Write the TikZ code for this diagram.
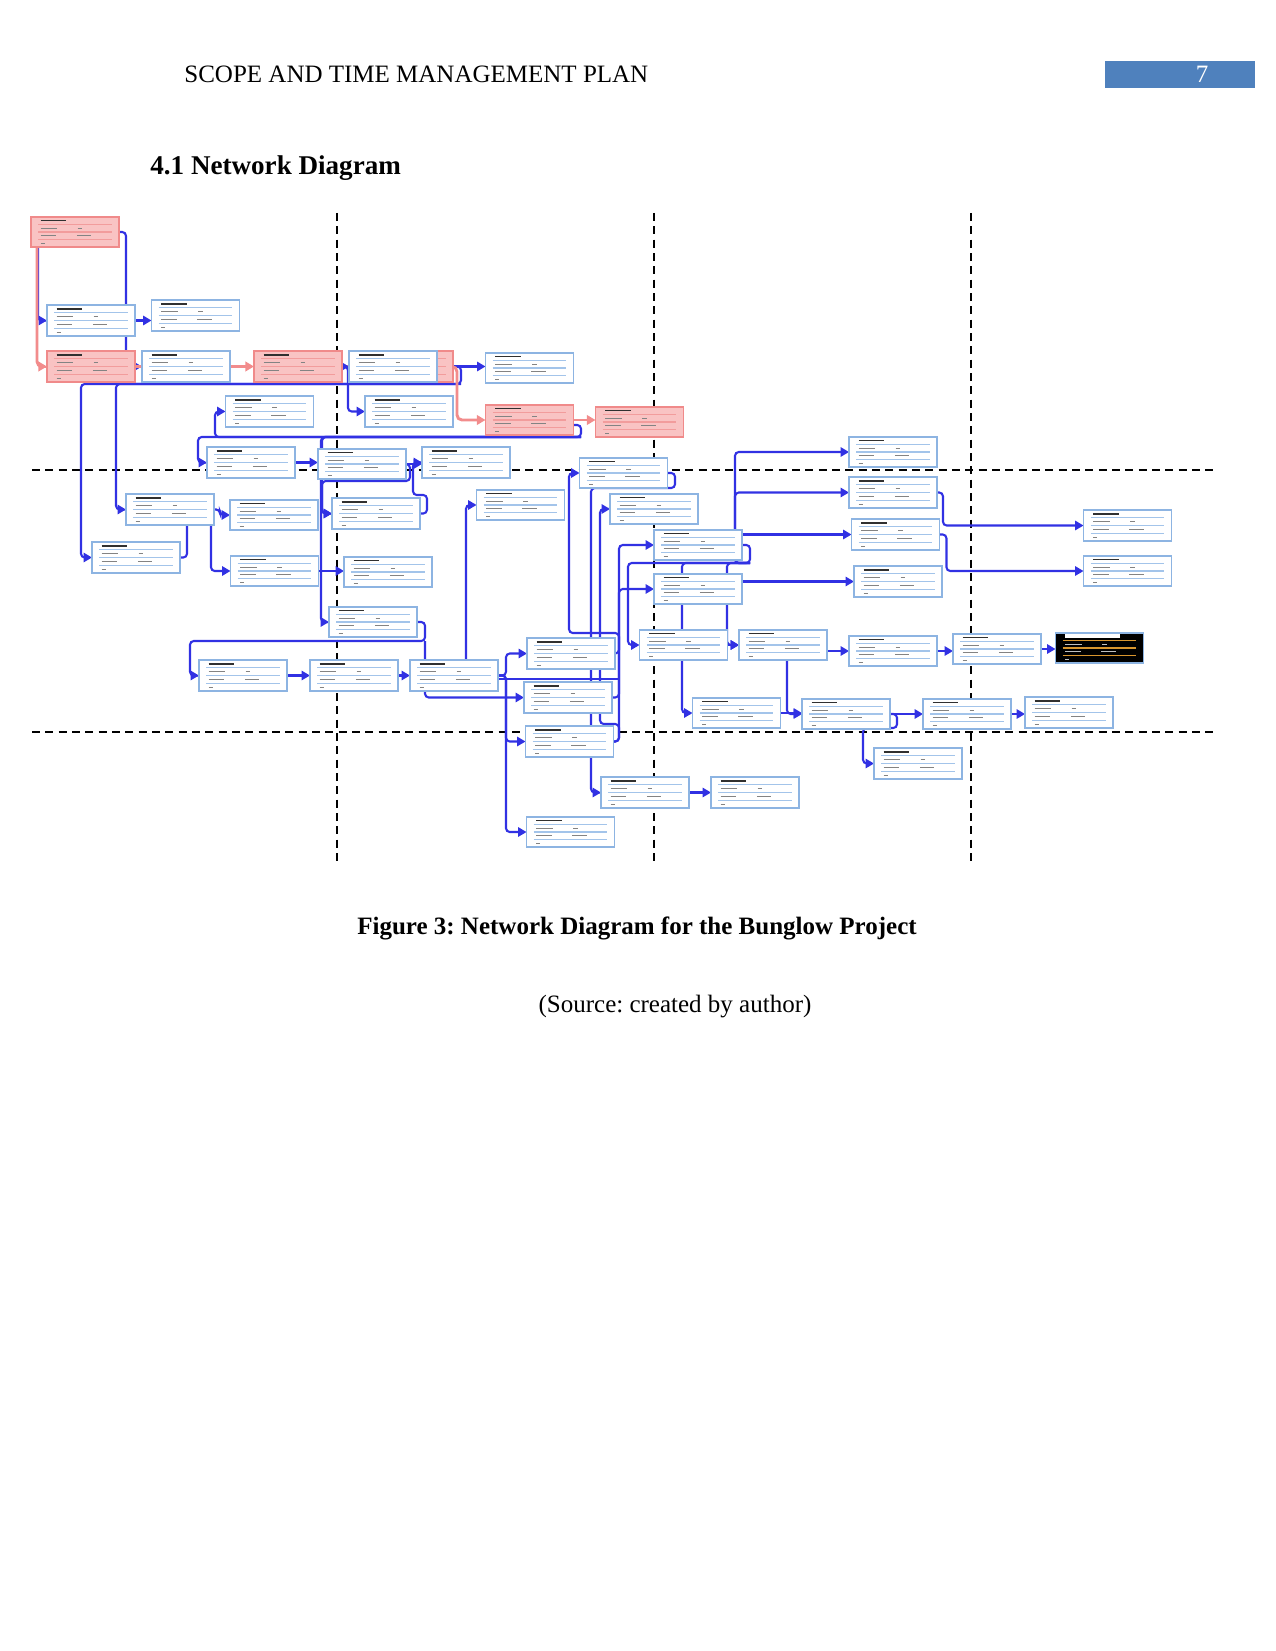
\documentclass[tikz,border=0pt]{standalone}
\usepackage{fontspec}
\setmainfont{Liberation Serif}
\usepackage{xcolor}
\usepackage{tikz}
\usetikzlibrary{arrows.meta, backgrounds}
\frenchspacing
\definecolor{C_LINK}{HTML}{3131E3}
\definecolor{C_CRIT}{HTML}{F28C8C}
\definecolor{C_BOX} {HTML}{8DB4E2}
\definecolor{C_SEP} {HTML}{A3C4EA}
\definecolor{C_CFIL}{HTML}{F9C3C3}
\definecolor{C_CBOX}{HTML}{F08A8A}
\definecolor{C_TXT} {HTML}{303030}
\definecolor{C_ORNG}{HTML}{D9962E}
\definecolor{C_PAGE}{HTML}{4F81BD}
\tikzset{
  %% -- page text --
  doc/text/.style={font=\fontsize{12pt}{14.4pt}\selectfont, inner sep=0pt},
  doc/bold/.style={font=\fontsize{12pt}{14.4pt}\selectfont\bfseries, inner sep=0pt},
  %% -- activity box (lines stand for the unreadable fields) --
  net/task/.style={
    draw=C_BOX, line width=0.9pt, fill=white,
    minimum width=42.2pt, minimum height=14.8pt,
    inner sep=0pt, outer sep=0pt,
    path picture={
      \foreach \yy in {3.6,7.4,11.1}
        \draw[net/sep] ([xshift=3.4pt,yshift=-\yy pt]path picture bounding box.north west)
          -- ++(35.4pt,0pt);
      \draw[net/ttl] ([xshift=4.6pt,yshift=-1.8pt]path picture bounding box.north west)
        -- ++(12.4pt,0pt);
      \draw[net/txt] ([xshift=4.6pt,yshift=-5.5pt]path picture bounding box.north west)
        -- ++(8pt,0pt) ++(9.8pt,0pt) -- ++(2.2pt,0pt);
      \draw[net/txt] ([xshift=4.6pt,yshift=-9.3pt]path picture bounding box.north west)
        -- ++(7.6pt,0pt) ++(9.8pt,0pt) -- ++(7pt,0pt);
      \draw[net/txt] ([xshift=4.6pt,yshift=-13pt]path picture bounding box.north west)
        -- ++(2pt,0pt);
    }
  },
  net/sep/.style={draw=C_SEP, line width=0.55pt},
  net/ttl/.style={draw=C_TXT, line width=0.7pt},
  net/txt/.style={draw=C_TXT!60, line width=0.45pt},
  %% -- critical activity --
  net/crit/.style={net/task, fill=C_CFIL, draw=C_CBOX,
    net/sep/.style={draw=C_CBOX!85, line width=0.55pt}},
  %% -- finish milestone --
  net/last/.style={net/task, fill=black, draw=C_BOX,
    net/sep/.style={draw=C_ORNG, line width=0.55pt},
    net/ttl/.style={draw=white, line width=1.8pt, shorten >=-14pt},
    net/txt/.style={draw=white!75!black, line width=0.45pt}},
  %% -- links --
  net/link/.style={draw=C_LINK, line width=1pt, rounded corners=1.8pt,
    -{Triangle[length=4pt, width=4.4pt]}},
  net/wire/.style={draw=C_LINK, line width=1pt, rounded corners=1.8pt},
  net/clink/.style={draw=C_CRIT, line width=1.4pt, rounded corners=2.4pt,
    -{Triangle[length=4.2pt, width=4.6pt]}},
  net/grid/.style={draw=black, line width=0.75pt, dash pattern=on 3.8pt off 2.6pt},
}
\begin{document}
\begin{tikzpicture}[x=0.48pt, y=-0.48pt]
\useasboundingbox (0,0) rectangle (1275,1651);

%% Page header
\node[doc/text, anchor=base west] (head) at (184,83) {SCOPE AND TIME MANAGEMENT PLAN};
\fill[C_PAGE] (1105,61) rectangle (1255,88);
\node[doc/text, anchor=base, text=white] (page) at (1202,83) {7};
\node[doc/bold, anchor=base west, font=\fontsize{13pt}{15pt}\selectfont\bfseries]
  (sect) at (150,175) {4.1 Network Diagram};

%% Critical path
\node[net/crit] (ta)  at (75,232)    {};
\node[net/crit] (td)  at (91,366.5)  {};
\node[net/crit] (tf)  at (298,366.5) {};
\node[net/crit] (th)  at (409,366.5) {};
\node[net/crit] (tl)  at (529.5,420) {};
\node[net/crit] (tm)  at (639.5,422) {};

%% Other activities
\node[net/task] (tb)  at (91,320.5)    {};
\node[net/task] (tc)  at (195.5,315.5) {};
\node[net/task] (te)  at (186,366.5)   {};
\node[net/task] (tg)  at (393,366.5)   {};
\node[net/task] (ti)  at (269.5,411.5) {};
\node[net/task] (tj)  at (409,411.5)   {};
\node[net/task] (tk)  at (529.5,368)   {};
\node[net/task] (tn)  at (251,462.5)   {};
\node[net/task] (to)  at (362,464)     {};
\node[net/task] (tp)  at (466,462.5)   {};
\node[net/task] (tq)  at (274,515)     {};
\node[net/task] (tr)  at (376,513.5)   {};
\node[net/task] (ts)  at (274.5,571)   {};
\node[net/task] (tt)  at (388,572)     {};
\node[net/task] (tu)  at (373,622)     {};
\node[net/task] (tv)  at (520.5,505)   {};
\node[net/task] (tw)  at (170,509.5)   {};
\node[net/task] (tx)  at (136,557.5)   {};
\node[net/task] (ty)  at (623.5,473)   {};
\node[net/task] (tz)  at (654,509)     {};
\node[net/task] (taa) at (698,545)     {};
\node[net/task] (tab) at (698,589)     {};
\node[net/task] (tac) at (893,452)     {};
\node[net/task] (tad) at (893,492.5)   {};
\node[net/task] (tae) at (895.5,534.5) {};
\node[net/task] (taf) at (898,581.5)   {};
\node[net/task] (tag) at (1127.5,525.5){};
\node[net/task] (tah) at (1127.5,571)  {};
\node[net/task] (tai) at (243,675.5)   {};
\node[net/task] (taj) at (354,675.5)   {};
\node[net/task] (tak) at (454,675.5)   {};
\node[net/task] (tal) at (571,653.5)   {};
\node[net/task] (tam) at (568,697.5)   {};
\node[net/task] (tan) at (569.5,741.5) {};
\node[net/task] (tao) at (683.5,645)   {};
\node[net/task] (tap) at (783,645)     {};
\node[net/task] (taq) at (736.5,713)   {};
\node[net/task] (tar) at (645,792.5)   {};
\node[net/task] (tas) at (755,792.5)   {};
\node[net/task] (tat) at (570.5,832)   {};
\node[net/task] (tau) at (893,651)     {};
\node[net/task] (tav) at (997,649)     {};
\node[net/last] (taw) at (1099.5,648)  {};
\node[net/task] (tax) at (846,714)     {};
\node[net/task] (tay) at (967,714)     {};
\node[net/task] (taz) at (1069,712.5)  {};
\node[net/task] (tba) at (918,763.5)   {};

\begin{scope}[on background layer]
%% Time-scale grid
\draw[net/grid] (337,213) -- (337,861);
\draw[net/grid] (654,213) -- (654,861);
\draw[net/grid] (971,213) -- (971,861);
\draw[net/grid] (32,470) -- (1216,470);
\draw[net/grid] (32,732) -- (1216,732);

%% Junctions
\coordinate (busH) at (461,384);
\coordinate (busL) at (581,437);
\coordinate (busU) at (425,641);
\coordinate (busM) at (619,633);
\coordinate (busA) at (750,563);

%% Upper left
\draw[net/link] (ta.south -| 38,0) |- (tb.west);
\draw[net/link] (ta.east) -- ++(7,0) |- (te.west);
\draw[net/link] (tb.east) -- (tb.east -| tc.west);
\draw[net/clink] (ta.south -| 37,0) |- (td.west);
\draw[net/clink] (td.east) -- (tf.west);
\draw[net/clink] (tf.east) -- (th.west);
\draw[net/link] (tf.east) -- (tg.west);
\draw[net/link] (tf.east) -- ++(6,0) |- (tj.west);
\draw[net/link] (th.east) -- (th.east -| tk.west);
\draw[net/link] (th.east) -| (busH) -| (tw.west -| 116,0) -- (tw.west);
\draw[net/link] (busH) -| (tx.west -| 81,0) -- (tx.west);
\draw[net/clink] (th.east) -- ++(4,0) |- (tl.west);
\draw[net/clink] (tl.east) -- (tl.east -| tm.west);

%% Second band
\draw[net/link] ([yshift=-2.4pt]tl.east) -| (busL) -| (tn.west -| 198,0) -- (tn.west);
\draw[net/link] (busL) -| (ti.west -| 215,0) -- (ti.west);
\draw[net/link] (busL) -| (tr.west -| 322,0) -- (tr.west);
\draw[net/link] (busL) -| (tu.west -| 321,0) -- (tu.west);
\draw[net/link] (tn.east) -- (tn.east -| to.west);
\draw[net/link] (to.east) -- (to.east -| tp.west);
\draw[net/link] (to.east) -- ++(4,0) |- (322,481) |- (tr.west);
\draw[net/link] (tr.east) -| (427,495) -| (tp.west -| 413,0) -- (tp.west);
\draw[net/link] (tw.east) -- ++(6,0) |- (tq.west);
\draw[net/link] (tw.south -| 211,0) |- (ts.west);
\draw[net/wire] (tx.east) -| (tw.south -| 187,0);
\draw[net/link] (ts.east) -- (ts.east -| tt.west);

%% Third band
\draw[net/link] (tu.east) -| (busU) -| (tai.west -| 190,0) -- (tai.west);
\draw[net/link] (busU) |- (tam.west);
\draw[net/link] (tai.east) -- (taj.west);
\draw[net/link] (taj.east) -- (tak.west);
\draw[net/link] (tak.north -| 466,0) |- (tv.west);
\draw[net/link] (tak.east) -| (tal.west -| 506,0) -- (tal.west);
\draw[net/link] (tak.east) -| (tan.west -| 506,0) -- (tan.west);
\draw[net/link] (tak.east) -| (tat.west -| 506,0) -- (tat.west);
\draw[net/wire] ([yshift=-1.8pt]tak.east) -- ++(121,0);
\draw[net/link] (tal.east) -| (taa.west -| 619,0) -- (taa.west);
\draw[net/link] (tam.east) -| (tab.west -| 619,0) -- (tab.west);
\draw[net/link] (tan.east) -| (busM) -| (ty.west -| 569,0) -- (ty.west);
\draw[net/link] (tan.east) -| (619,724) -| (tz.west -| 600,0) -- (tz.west);
\draw[net/link] (ty.east) -| (675,488) -| (tar.west -| 591,0) -- (tar.west);
\draw[net/link] (tar.east) -- (tar.east -| tas.west);

%% Right part
\draw[net/link] (taa.east) -| (busA) -| (tac.west -| 735,0) -- (tac.west);
\draw[net/link] (busA) -| (tad.west -| 735,0) -- (tad.west);
\draw[net/link] (busA) -| (tao.west -| 628,0) -- (tao.west);
\draw[net/link] (busA) -| (tap.west -| 727,0) -- (tap.west);
\draw[net/link] (busA) -| (taq.west -| 682,0) -- (taq.west);
\draw[net/link] (tae.west -| taa.east) -- (tae.west);
\draw[net/link] (taf.west -| tab.east) -- (taf.west);
\draw[net/link] (tad.east) -- ++(6,0) |- (tag.west);
\draw[net/link] (tae.east) -- ++(7,0) |- (tah.west);
\draw[net/link] (tao.east) -- (tao.east -| tap.west);
\draw[net/link] (tau.west -| tap.east) -- (tau.west);
\draw[net/link] (tau.east) -- (tau.east -| tav.west);
\draw[net/link] (tav.east) -- (tav.east -| taw.west);
\draw[net/link] (tap.south -| 787,0) |- (tax.west);
\draw[net/link] (taq.east) -- (taq.east -| tax.west);
\draw[net/link] (tax.east) -- (tax.east -| tay.west);
\draw[net/link] (tay.east) -- (tay.east -| taz.west);
\draw[net/link] (tax.east) -| (897,728) -| (tba.west -| 863,0) -- (tba.west);
\end{scope}

%% Caption
\node[doc/bold, anchor=base] (cap) at (637,934)
  {Figure 3: Network Diagram for the Bunglow Project};
\node[doc/text, anchor=base] (src) at (675,1012) {(Source: created by author)};
\end{tikzpicture}
\end{document}
